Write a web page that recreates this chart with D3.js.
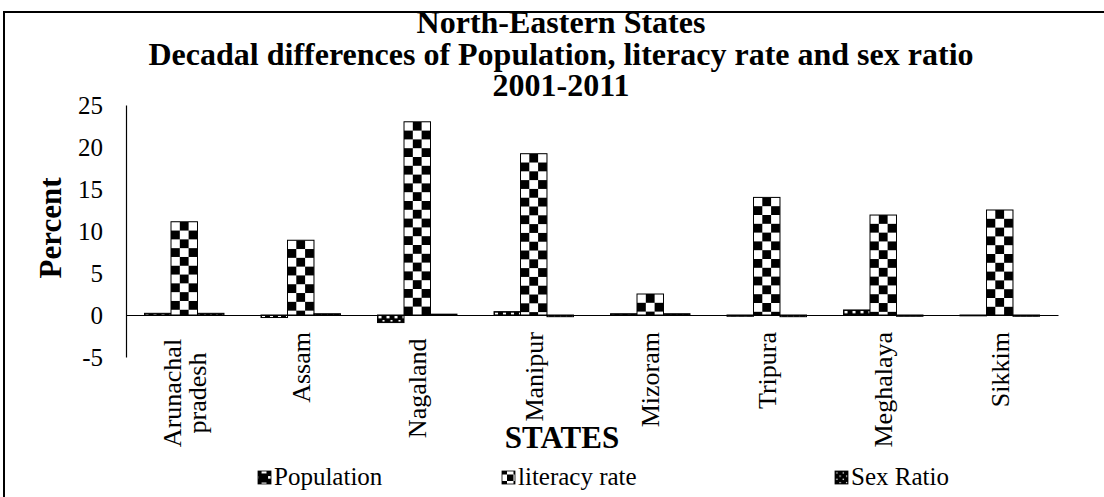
<!DOCTYPE html>
<html><head><meta charset="utf-8">
<script src="https://cdn.jsdelivr.net/npm/d3@7"></script>
<style>
body{margin:0;background:#fff}
svg{display:block}
svg text{font-family:"Liberation Serif","Times New Roman",serif !important}
</style>
</head><body>
<svg id="c" width="1104" height="497"></svg>
<script>
const states = ["Arunachal pradesh","Assam","Nagaland ","Manipur","Mizoram","Tripura","Meghalaya","Sikkim"];
const population = [0.2, -0.3, -0.9, 0.4, 0.15, -0.15, 0.6, -0.1];
const literacy   = [11.1, 8.9, 23.0, 19.2, 2.5, 14.0, 11.9, 12.5];
const sexRatio   = [0.2, 0.15, 0.1, -0.2, 0.15, -0.2, -0.15, -0.15];
const seriesNames = ["Population","literacy rate","Sex Ratio"];
const yTicks = [-5,0,5,10,15,20,25];
const titleLines = ["North-Eastern States","Decadal differences of Population, literacy rate and sex ratio","2001-2011"];

const svg = d3.select("#c");
const W = 1104, H = 497;
svg.append("rect").attr("width",W).attr("height",H).attr("fill","#fff");
svg.append("rect").attr("x",4).attr("y",12).attr("width",W+20).attr("height",H+20)
  .attr("fill","none").attr("stroke","#000").attr("stroke-width",2);

const defs = svg.append("defs");
function checker(id, s){
  const p = defs.append("pattern").attr("id",id).attr("patternUnits","userSpaceOnUse")
    .attr("width",2*s).attr("height",2*s);
  p.append("rect").attr("width",2*s).attr("height",2*s).attr("fill","#fff");
  p.append("rect").attr("x",s).attr("width",s).attr("height",s).attr("fill","#000");
  p.append("rect").attr("y",s).attr("width",s).attr("height",s).attr("fill","#000");
}
function popPat(id, s){
  const p = defs.append("pattern").attr("id",id).attr("patternUnits","userSpaceOnUse")
    .attr("width",s).attr("height",s);
  p.append("rect").attr("width",s).attr("height",s).attr("fill","#000");
  p.append("rect").attr("x",s*0.12).attr("y",s*0.12).attr("width",s*0.38).attr("height",s*0.3).attr("fill","#fff");
  p.append("rect").attr("x",s*0.62).attr("y",s*0.62).attr("width",s*0.25).attr("height",s*0.2).attr("fill","#fff");
}
function dotPat(id, s){
  const p = defs.append("pattern").attr("id",id).attr("patternUnits","userSpaceOnUse")
    .attr("width",s).attr("height",s);
  p.append("rect").attr("width",s).attr("height",s).attr("fill","#000");
  p.append("rect").attr("x",s*0.15).attr("y",s*0.15).attr("width",s*0.2).attr("height",s*0.2).attr("fill","#fff");
  p.append("rect").attr("x",s*0.65).attr("y",s*0.65).attr("width",s*0.2).attr("height",s*0.2).attr("fill","#fff");
}
popPat("pPop", 8); checker("pLit", 8.8); dotPat("pSex", 6);
popPat("lPop", 13); checker("lLit", 6.5); dotPat("lSex", 6.5);
const barPats = ["url(#pPop)","url(#pLit)","url(#pSex)"];
const legPats = ["url(#lPop)","url(#lLit)","url(#lSex)"];

const x0 = d3.scaleBand().domain(states).range([126,1058]).paddingInner(0.318).paddingOuter(0.159);
const x1 = d3.scaleBand().domain(seriesNames).range([0,x0.bandwidth()]);
const y = d3.scaleLinear().domain([-5,25]).range([357,105]);

// title
svg.append("g").selectAll("text").data(titleLines).join("text")
  .attr("x",561).attr("y",(d,i)=>33+i*31.5).attr("text-anchor","middle")
  .attr("font-size",32).attr("font-weight","bold").attr("fill","#000").text(d=>d);

// y axis
const ya = svg.append("g").attr("transform","translate(126,0)")
  .call(d3.axisLeft(y).tickValues(yTicks).tickSize(0).tickSizeOuter(0).tickPadding(23).tickFormat(d=>String(d)));
ya.select(".domain").attr("stroke","#000").attr("stroke-width",1.2);
ya.selectAll("text").attr("font-size",25).attr("fill","#000");

// x axis
const xa = svg.append("g").attr("transform",`translate(0,${y(0)})`)
  .call(d3.axisBottom(x0).tickSize(0).tickSizeOuter(0).tickFormat(""));
xa.select(".domain").attr("stroke","#000").attr("stroke-width",1.2);

// bars
const seriesData = [population, literacy, sexRatio];
seriesNames.forEach((name, si) => {
  const vals = seriesData[si];
  const g = svg.append("g");
  const bars = g.selectAll("g").data(states.map((s,j)=>({s, v: vals[j]}))).join("g")
    .attr("transform", d => `translate(${x0(d.s)+x1(name)},${y(Math.max(0,d.v))})`);
  bars.append("rect").attr("x",0).attr("y",0)
    .attr("width",x1.bandwidth())
    .attr("height",d=>Math.abs(y(d.v)-y(0)))
    .attr("fill",barPats[si]).attr("stroke","#000").attr("stroke-width",1);
});

// x labels
const lab = svg.append("g").attr("font-size",26).attr("fill","#000");
states.forEach(s => {
  const cx = x0(s) + x0.bandwidth()/2;
  if (s === "Arunachal pradesh") {
    const t = lab.append("text").attr("transform",`translate(${cx},393) rotate(-90)`).attr("text-anchor","middle");
    t.append("tspan").attr("x",0).attr("y",-12.5).attr("dy","0.35em").text("Arunachal");
    t.append("tspan").attr("x",0).attr("y",12.5).attr("dy","0.35em").text("pradesh");
  } else {
    lab.append("text").attr("transform",`translate(${cx},332) rotate(-90)`)
      .attr("text-anchor","end").attr("dy","0.35em").style("white-space","pre").text(s);
  }
});

// axis titles
svg.append("text").attr("transform","translate(50,228) rotate(-90)").attr("text-anchor","middle")
  .attr("dy","0.35em").attr("font-size",31).attr("font-weight","bold").text("Percent");
svg.append("text").attr("x",562).attr("y",448).attr("text-anchor","middle")
  .attr("font-size",31).attr("font-weight","bold").text("STATES");

// legend
const legX = [258, 502, 835];
const leg = svg.append("g");
seriesNames.forEach((n,i)=>{
  leg.append("rect").attr("x",legX[i]).attr("y",471).attr("width",13).attr("height",13)
    .attr("fill",legPats[i]).attr("stroke","#000").attr("stroke-width",0.8);
  leg.append("text").attr("x",legX[i]+16).attr("y",485).attr("font-size",25).attr("fill","#000").text(n);
});
</script>
</body></html>
